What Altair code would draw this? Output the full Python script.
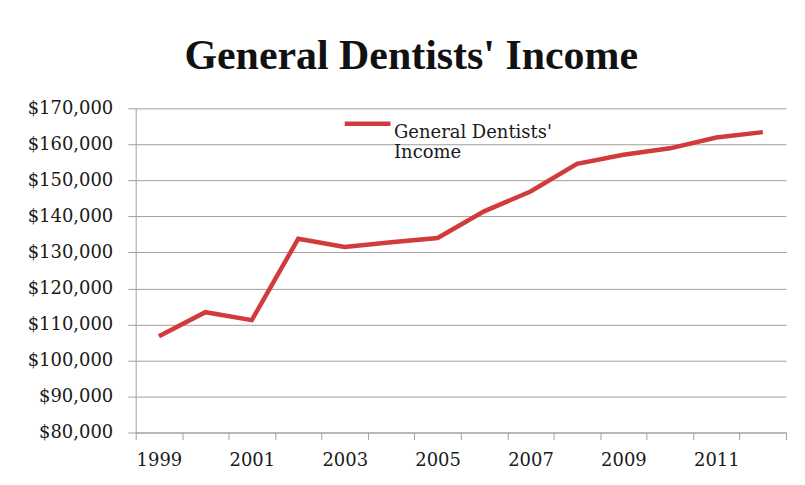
import altair as alt
import pandas as pd

years = [1999, 2000, 2001, 2002, 2003, 2004, 2005, 2006, 2007, 2008, 2009, 2010, 2011, 2012]
income = [106700, 113400, 111200, 133800, 131500, 132800, 134000, 141400, 146900,
          154600, 157100, 158900, 161900, 163400]
series = ["General Dentists' Income"] * len(years)

df = pd.DataFrame({"Year": years, "Income": income, "Series": series})

FONT = "DejaVu Serif"
GRID = "#A59F99"

chart = alt.Chart(df).mark_line(strokeWidth=4.5, color="#D13B3B").encode(
    x=alt.X("Year:O", bandPosition=0.5,
            scale=alt.Scale(type="band", paddingInner=0, paddingOuter=0),
            axis=alt.Axis(title=None, tickBand="extent", labelAngle=0,
                          labelExpr="datum.value % 2 == 1 ? datum.label : ''",
                          labelOverlap=False, labelPadding=12, tickSize=7,
                          domainColor=GRID, tickColor=GRID, grid=False)),
    y=alt.Y("Income:Q",
            scale=alt.Scale(domain=[80000, 170000], nice=False, zero=False),
            axis=alt.Axis(title=None, format="$,.0f", values=list(range(80000, 170001, 10000)),
                          tickSize=8, labelPadding=15, grid=True, gridColor=GRID,
                          domainColor=GRID, tickColor=GRID, minExtent=110, maxExtent=110)),
    color=alt.Color("Series:N", scale=alt.Scale(range=["#D13B3B"]),
                    legend=alt.Legend(title=None, orient="none", legendX=207, legendY=-10,
                                      symbolType="stroke", symbolSize=2100, symbolStrokeWidth=4.5,
                                      labelFontSize=18, labelFont=FONT, labelColor="#1a1a1a",
                                      labelOffset=1, padding=0, labelLimit=400,
                                      labelBaseline="top",
                                      labelExpr="['General Dentists\\'', 'Income']")),
).properties(
    width=652, height=325,
    title=alt.TitleParams("General Dentists' Income", font="Liberation Serif", fontSize=42,
                          fontWeight="bold", color="#111111", anchor="middle", frame="bounds",
                          offset=20, dx=5),
    padding={"left": 18, "top": 27, "right": 10, "bottom": 5},
).configure_axis(
    labelFont=FONT, labelFontSize=18, labelColor="#1a1a1a"
).configure_view(stroke=None)

chart.save("out.html", embed_options={"renderer": "svg", "actions": False})
